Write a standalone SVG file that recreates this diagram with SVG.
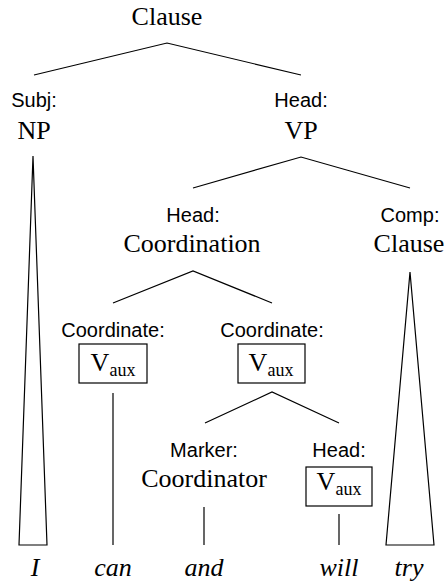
<svg xmlns="http://www.w3.org/2000/svg" width="448" height="585" viewBox="0 0 448 585">
  <style>
    .cat { font-family: "Liberation Serif", "Times New Roman", serif; font-size: 26px; fill: #000; text-anchor: middle; }
    .fn { font-family: "Liberation Sans", Arial, sans-serif; font-size: 20px; fill: #000; text-anchor: middle; }
    .word { font-family: "Liberation Serif", "Times New Roman", serif; font-size: 26px; font-style: italic; fill: #000; text-anchor: middle; }
    .sub { font-size: 18px; }
    .edge { stroke: #000; stroke-width: 1.2; fill: none; }
    .box { stroke: #000; stroke-width: 1.2; fill: #fff; }
  </style>
  <rect width="448" height="585" fill="#fff"/>

  <!-- branches and triangles -->
  <g id="connectors">
    <polyline class="edge" points="34,75 167,43 301,75"/>
    <polygon class="edge" points="33,156 19,545 47,545"/>
    <polyline class="edge" points="193,188 301,157 410,188"/>
    <polygon class="edge" points="410,272 386,545 434,545"/>
    <polyline class="edge" points="113,303 193,271 272,303"/>
    <line class="edge" x1="113" y1="393" x2="113" y2="545"/>
    <polyline class="edge" points="205,423 272,392 339,423"/>
    <line class="edge" x1="204" y1="507" x2="204" y2="545"/>
    <line class="edge" x1="339" y1="514" x2="339" y2="545"/>
  </g>

  <g id="clause-root">
    <text class="cat" x="167" y="25">Clause</text>
  </g>
  <g id="subj-np">
    <text class="fn" x="34" y="107">Subj:</text>
    <text class="cat" x="34" y="139">NP</text>
  </g>
  <g id="head-vp">
    <text class="fn" x="301" y="107">Head:</text>
    <text class="cat" x="301" y="139">VP</text>
  </g>
  <g id="head-coordination">
    <text class="fn" x="193" y="222">Head:</text>
    <text class="cat" x="192" y="252">Coordination</text>
  </g>
  <g id="comp-clause">
    <text class="fn" x="410" y="222">Comp:</text>
    <text class="cat" x="409" y="252">Clause</text>
  </g>
  <g id="coordinate-1">
    <text class="fn" x="113" y="337">Coordinate:</text>
    <rect class="box" x="79" y="344" width="68" height="39"/>
    <text class="cat" x="113" y="371">V<tspan class="sub" dy="5">aux</tspan></text>
  </g>
  <g id="coordinate-2">
    <text class="fn" x="272" y="337">Coordinate:</text>
    <rect class="box" x="238" y="344" width="67" height="39"/>
    <text class="cat" x="271" y="371">V<tspan class="sub" dy="5">aux</tspan></text>
  </g>
  <g id="marker-coordinator">
    <text class="fn" x="204" y="457">Marker:</text>
    <text class="cat" x="204" y="487">Coordinator</text>
  </g>
  <g id="head-vaux">
    <text class="fn" x="339" y="457">Head:</text>
    <rect class="box" x="306" y="467" width="66" height="39"/>
    <text class="cat" x="339" y="490">V<tspan class="sub" dy="5">aux</tspan></text>
  </g>

  <g id="words">
    <text class="word" x="35" y="576">I</text>
    <text class="word" x="113" y="576">can</text>
    <text class="word" x="204" y="576">and</text>
    <text class="word" x="339" y="576">will</text>
    <text class="word" x="409" y="576">try</text>
  </g>
</svg>
